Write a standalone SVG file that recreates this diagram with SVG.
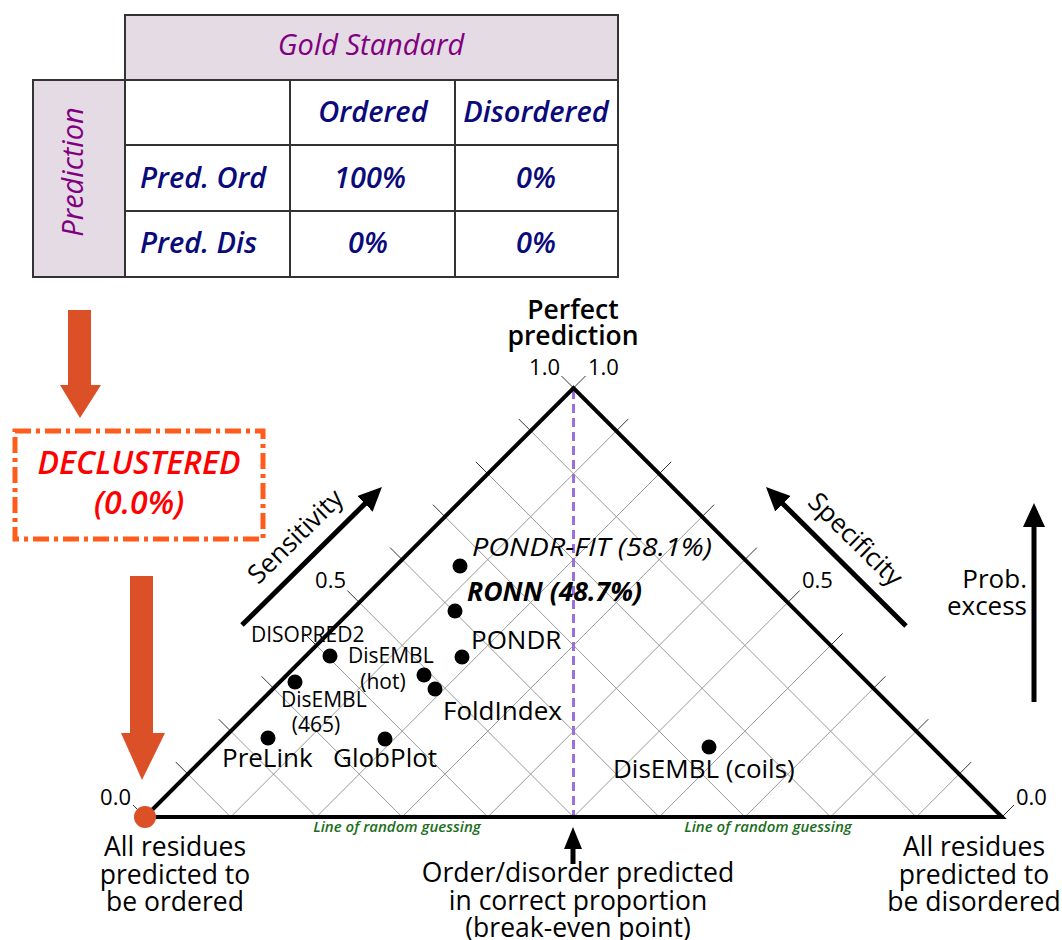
<svg xmlns="http://www.w3.org/2000/svg" width="1062" height="940" viewBox="0 0 1062 940">
  <style>
    text { font-family: "Open Sans", "DejaVu Sans", sans-serif; fill: #000; }
    .tbl-hdr { font-style: italic; font-weight: 500; fill: #800080; font-size: 29px; }
    .tbl-txt { font-style: italic; font-weight: 600; fill: #0a0a7a; font-size: 29px; }
    .cell { stroke: #333; stroke-width: 2; }
    .grid { stroke: #999; stroke-width: 1; fill: none; }
    .tick { stroke: #333; stroke-width: 1; fill: none; }
    .side { stroke: #000; stroke-width: 4; fill: none; stroke-linecap: round; }
    .axis-arrow { stroke: #000; stroke-width: 5; fill: none; }
    .dot { fill: #000; }
    .lbl { font-size: 26px; }
    .small { font-size: 21px; }
    .num { font-size: 22px; }
    .guess { font-size: 15px; font-style: italic; font-weight: 600; fill: #1b6e1b; }
    .big { font-size: 26.5px; }
    .orange { fill: #dc5027; }
  </style>
  <defs>
    <marker id="head" markerUnits="userSpaceOnUse" viewBox="0 0 24 22" refX="1" refY="11" markerWidth="24" markerHeight="22" orient="auto">
      <path d="M0,0 L24,11 L0,22 z" fill="#000"/>
    </marker>
    <marker id="head-sm" markerUnits="userSpaceOnUse" viewBox="0 0 22 18" refX="1" refY="9" markerWidth="22" markerHeight="18" orient="auto">
      <path d="M0,0 L22,9 L0,18 z" fill="#000"/>
    </marker>
  </defs>

  <!-- confusion table -->
  <g id="table">
    <rect x="125" y="15" width="493" height="65" fill="#e4dbe4" class="cell"/>
    <rect x="33" y="80" width="92" height="197" fill="#e4dbe4" class="cell"/>
    <rect x="125" y="80" width="493" height="197" fill="#fff" class="cell"/>
    <line x1="290" y1="80" x2="290" y2="277" class="cell"/>
    <line x1="455" y1="80" x2="455" y2="277" class="cell"/>
    <line x1="125" y1="145" x2="618" y2="145" class="cell"/>
    <line x1="125" y1="211" x2="618" y2="211" class="cell"/>
    <text class="tbl-hdr" x="371" y="55" text-anchor="middle">Gold Standard</text>
    <text class="tbl-hdr" transform="translate(83,172) rotate(-90)" text-anchor="middle">Prediction</text>
    <text class="tbl-txt" x="373" y="122" text-anchor="middle">Ordered</text>
    <text class="tbl-txt" x="536" y="122" text-anchor="middle">Disordered</text>
    <text class="tbl-txt" x="140" y="188">Pred. Ord</text>
    <text class="tbl-txt" x="370" y="188" text-anchor="middle">100%</text>
    <text class="tbl-txt" x="536" y="188" text-anchor="middle">0%</text>
    <text class="tbl-txt" x="140" y="253">Pred. Dis</text>
    <text class="tbl-txt" x="368" y="253" text-anchor="middle">0%</text>
    <text class="tbl-txt" x="536" y="253" text-anchor="middle">0%</text>
  </g>

  <!-- declustered step -->
  <g id="arrow-down-1">
    <path class="orange" d="M68,310 H91 V385 H101 L80,418 L60,385 H68 Z"/>
  </g>
  <g id="declustered">
    <rect x="15" y="431" width="248" height="108" fill="none" stroke="#ff5b1a" stroke-width="5" stroke-dasharray="16 5 4 5"/>
    <text x="139" y="474" text-anchor="middle" font-size="32" font-style="italic" font-weight="600" style="fill:#f00">DECLUSTERED</text>
    <text x="139" y="514" text-anchor="middle" font-size="32" font-style="italic" font-weight="600" style="fill:#f00">(0.0%)</text>
  </g>
  <g id="arrow-down-2">
    <path class="orange" d="M130,576 H153 V733 H165 L142,780 L121,733 H130 Z"/>
  </g>

  <!-- triangle grid -->
  <g id="grid">
    <path class="grid" d="M230.7,817 L187.85,774.1 M316.4,817 L230.7,731.2 M402.1,817 L273.55,688.3 M487.8,817 L316.4,645.4 M573.5,817 L359.25,602.5 M659.2,817 L402.1,559.6 M744.9,817 L444.95,516.7 M830.6,817 L487.8,473.8 M916.3,817 L530.65,430.9"/>
    <path class="grid" d="M230.7,817 L616.35,430.9 M316.4,817 L659.2,473.8 M402.1,817 L702.05,516.7 M487.8,817 L744.9,559.6 M573.5,817 L787.75,602.5 M659.2,817 L830.6,645.4 M744.9,817 L873.45,688.3 M830.6,817 L916.3,731.2 M916.3,817 L959.15,774.1"/>
    <path class="tick" d="M145,817 l-12,-12 M187.85,774.1 l-12,-12 M230.7,731.2 l-12,-12 M273.55,688.3 l-12,-12 M316.4,645.4 l-12,-12 M359.25,602.5 l-12,-12 M402.1,559.6 l-12,-12 M444.95,516.7 l-12,-12 M487.8,473.8 l-12,-12 M530.65,430.9 l-12,-12 M573.5,388 l-12,-12"/>
    <path class="tick" d="M1002,817 l12,-12 M959.15,774.1 l12,-12 M916.3,731.2 l12,-12 M873.45,688.3 l12,-12 M830.6,645.4 l12,-12 M787.75,602.5 l12,-12 M744.9,559.6 l12,-12 M702.05,516.7 l12,-12 M659.2,473.8 l12,-12 M616.35,430.9 l12,-12 M573.5,388 l12,-12"/>
    <line x1="573.5" y1="390" x2="573.5" y2="817" stroke="#9b6fdc" stroke-width="3" stroke-dasharray="9 5"/>
  </g>

  <!-- triangle frame -->
  <g id="frame">
    <path class="side" d="M145,817 L573.5,388 L1002,817 Z"/>
    <circle cx="145" cy="817" r="11" class="orange"/>
  </g>

  <!-- axis labels -->
  <g id="axis-labels">
    <text class="big" x="573" y="319" text-anchor="middle" font-weight="600">Perfect</text>
    <text class="big" x="573" y="345" text-anchor="middle" font-weight="600">prediction</text>
    <text class="num" x="560" y="375" text-anchor="end">1.0</text>
    <text class="num" x="588" y="375">1.0</text>
    <text class="num" x="346" y="588" text-anchor="end">0.5</text>
    <text class="num" x="802" y="588">0.5</text>
    <text class="num" x="131" y="805" text-anchor="end">0.0</text>
    <text class="num" x="1016" y="805">0.0</text>
    <text class="guess" x="397" y="832" text-anchor="middle">Line of random guessing</text>
    <text class="guess" x="768" y="832" text-anchor="middle">Line of random guessing</text>
  </g>

  <!-- direction arrows -->
  <g id="connectors">
    <line class="axis-arrow" x1="242" y1="625" x2="365.6" y2="503.1" marker-end="url(#head)"/>
    <line class="axis-arrow" x1="906" y1="626" x2="782.3" y2="503.2" marker-end="url(#head)"/>
    <line class="axis-arrow" x1="1034" y1="702" x2="1034" y2="526" marker-end="url(#head)"/>
    <line class="axis-arrow" x1="573" y1="864" x2="573" y2="848" marker-end="url(#head-sm)"/>
  </g>
  <g id="sensitivity">
    <text class="lbl" transform="translate(296,537) rotate(-44.5)" y="8" text-anchor="middle">Sensitivity</text>
  </g>
  <g id="specificity">
    <text class="lbl" transform="translate(855,540) rotate(44.5)" y="8" text-anchor="middle">Specificity</text>
  </g>
  <g id="prob-excess">
    <text class="lbl" x="1027" y="588" text-anchor="end">Prob.</text>
    <text class="lbl" x="1027" y="615" text-anchor="end">excess</text>
  </g>

  <!-- predictors -->
  <g id="pondr-fit">
    <circle class="dot" cx="460" cy="566" r="7.5"/>
    <text class="lbl" x="472" y="556" font-style="italic" textLength="240" lengthAdjust="spacingAndGlyphs">PONDR-FIT (58.1%)</text>
  </g>
  <g id="ronn">
    <circle class="dot" cx="455" cy="611" r="7.5"/>
    <text class="lbl" x="467" y="601" font-style="italic" font-weight="700" textLength="175" lengthAdjust="spacingAndGlyphs">RONN (48.7%)</text>
  </g>
  <g id="pondr">
    <circle class="dot" cx="462" cy="657" r="7.5"/>
    <text class="lbl" x="471" y="649">PONDR</text>
  </g>
  <g id="disopred2">
    <circle class="dot" cx="330" cy="656" r="7.5"/>
    <text class="small" x="251" y="642">DISOPRED2</text>
  </g>
  <g id="disembl-hot">
    <circle class="dot" cx="424" cy="675" r="7.5"/>
    <text class="small" x="348" y="663">DisEMBL</text>
    <text class="small" x="383" y="689" text-anchor="middle">(hot)</text>
  </g>
  <g id="foldindex">
    <circle class="dot" cx="435" cy="689" r="7.5"/>
    <text class="lbl" x="443" y="720">FoldIndex</text>
  </g>
  <g id="disembl-465">
    <circle class="dot" cx="295" cy="682" r="7.5"/>
    <text class="small" x="281" y="707">DisEMBL</text>
    <text class="small" x="316" y="732" text-anchor="middle">(465)</text>
  </g>
  <g id="prelink">
    <circle class="dot" cx="268" cy="738" r="7.5"/>
    <text class="lbl" x="222" y="767">PreLink</text>
  </g>
  <g id="globplot">
    <circle class="dot" cx="385" cy="739" r="7.5"/>
    <text class="lbl" x="333" y="767">GlobPlot</text>
  </g>
  <g id="disembl-coils">
    <circle class="dot" cx="709" cy="747" r="7.5"/>
    <text class="lbl" x="613" y="778">DisEMBL (coils)</text>
  </g>

  <!-- corner captions -->
  <g id="all-ordered">
    <text class="big" x="175" y="856" text-anchor="middle">All residues</text>
    <text class="big" x="175" y="884" text-anchor="middle">predicted to</text>
    <text class="big" x="175" y="911" text-anchor="middle">be ordered</text>
  </g>
  <g id="break-even">
    <text class="big" x="578" y="882" text-anchor="middle">Order/disorder predicted</text>
    <text class="big" x="578" y="910" text-anchor="middle">in correct proportion</text>
    <text class="big" x="578" y="937" text-anchor="middle">(break-even point)</text>
  </g>
  <g id="all-disordered">
    <text class="big" x="974" y="856" text-anchor="middle">All residues</text>
    <text class="big" x="974" y="884" text-anchor="middle">predicted to</text>
    <text class="big" x="974" y="911" text-anchor="middle">be disordered</text>
  </g>
</svg>
